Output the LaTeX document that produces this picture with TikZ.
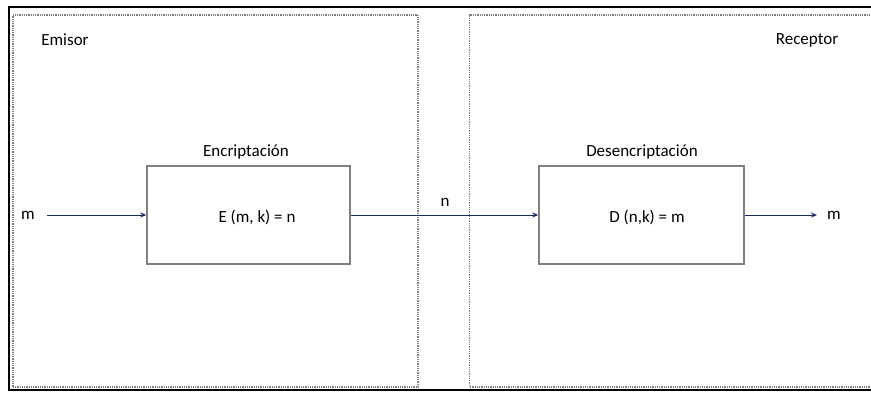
\documentclass[tikz,border=0pt]{standalone}
\usepackage{fontspec}
\setmainfont{Carlito}
\usetikzlibrary{arrows.meta}
\definecolor{arrowc}{HTML}{1F2A5C}
\definecolor{boxc}{HTML}{808080}
\definecolor{panelc}{HTML}{7E7E88}
\tikzset{
  txt/.style={inner sep=0pt, font=\fontsize{17}{20}\selectfont},
  procbox/.style={draw=boxc, line width=1.4pt, inner sep=0pt},
  panel/.style={draw=panelc, line width=1.4pt, dash pattern=on 1pt off 0.8pt, inner sep=0pt},
  flow/.style={draw=arrowc, line width=0.8pt, -{Stealth[length=6pt,width=5pt]}}
}
\begin{document}
\begin{tikzpicture}[x=1pt,y=-1pt]
\useasboundingbox (0,0) rectangle (871,392);
\clip (0,0) rectangle (871,392);
% outer frame
\draw[black, line width=2.4pt] (9,7) rectangle (900,390);
% panels
\node[panel, minimum width=405pt, minimum height=372pt] (left) at (215.5,201) {};
\node[panel, minimum width=420pt, minimum height=372pt, anchor=west] (right) at (469,201) {};
\node[txt] (emisor) at (65,40) {Emisor};
\node[txt] (receptor) at (807,40) {Receptor};
% boxes
\node[procbox, minimum width=203pt, minimum height=98pt] (enc) at (248.5,215) {};
\node[txt] (enctext) at (257,217) {E (m, k) = n};
\node[txt] (enclabel) at (246,152) {Encriptación};
\node[procbox, minimum width=205pt, minimum height=98pt] (dec) at (641.5,215) {};
\node[txt] (dectext) at (647,217) {D (n,k) = m};
\node[txt] (declabel) at (642,152) {Desencriptación};
% io
\node[txt] (min) at (28,215) {m};
\node[txt] (mout) at (834,215) {m};
\node[txt] (nlab) at (445,202) {n};
\draw[flow, shorten <=12pt] (min.east) -- (enc.west);
\draw[flow] (enc.east) -- (dec.west);
\draw[flow, shorten >=10pt] (dec.east) -- (mout.west);
\end{tikzpicture}
\end{document}
